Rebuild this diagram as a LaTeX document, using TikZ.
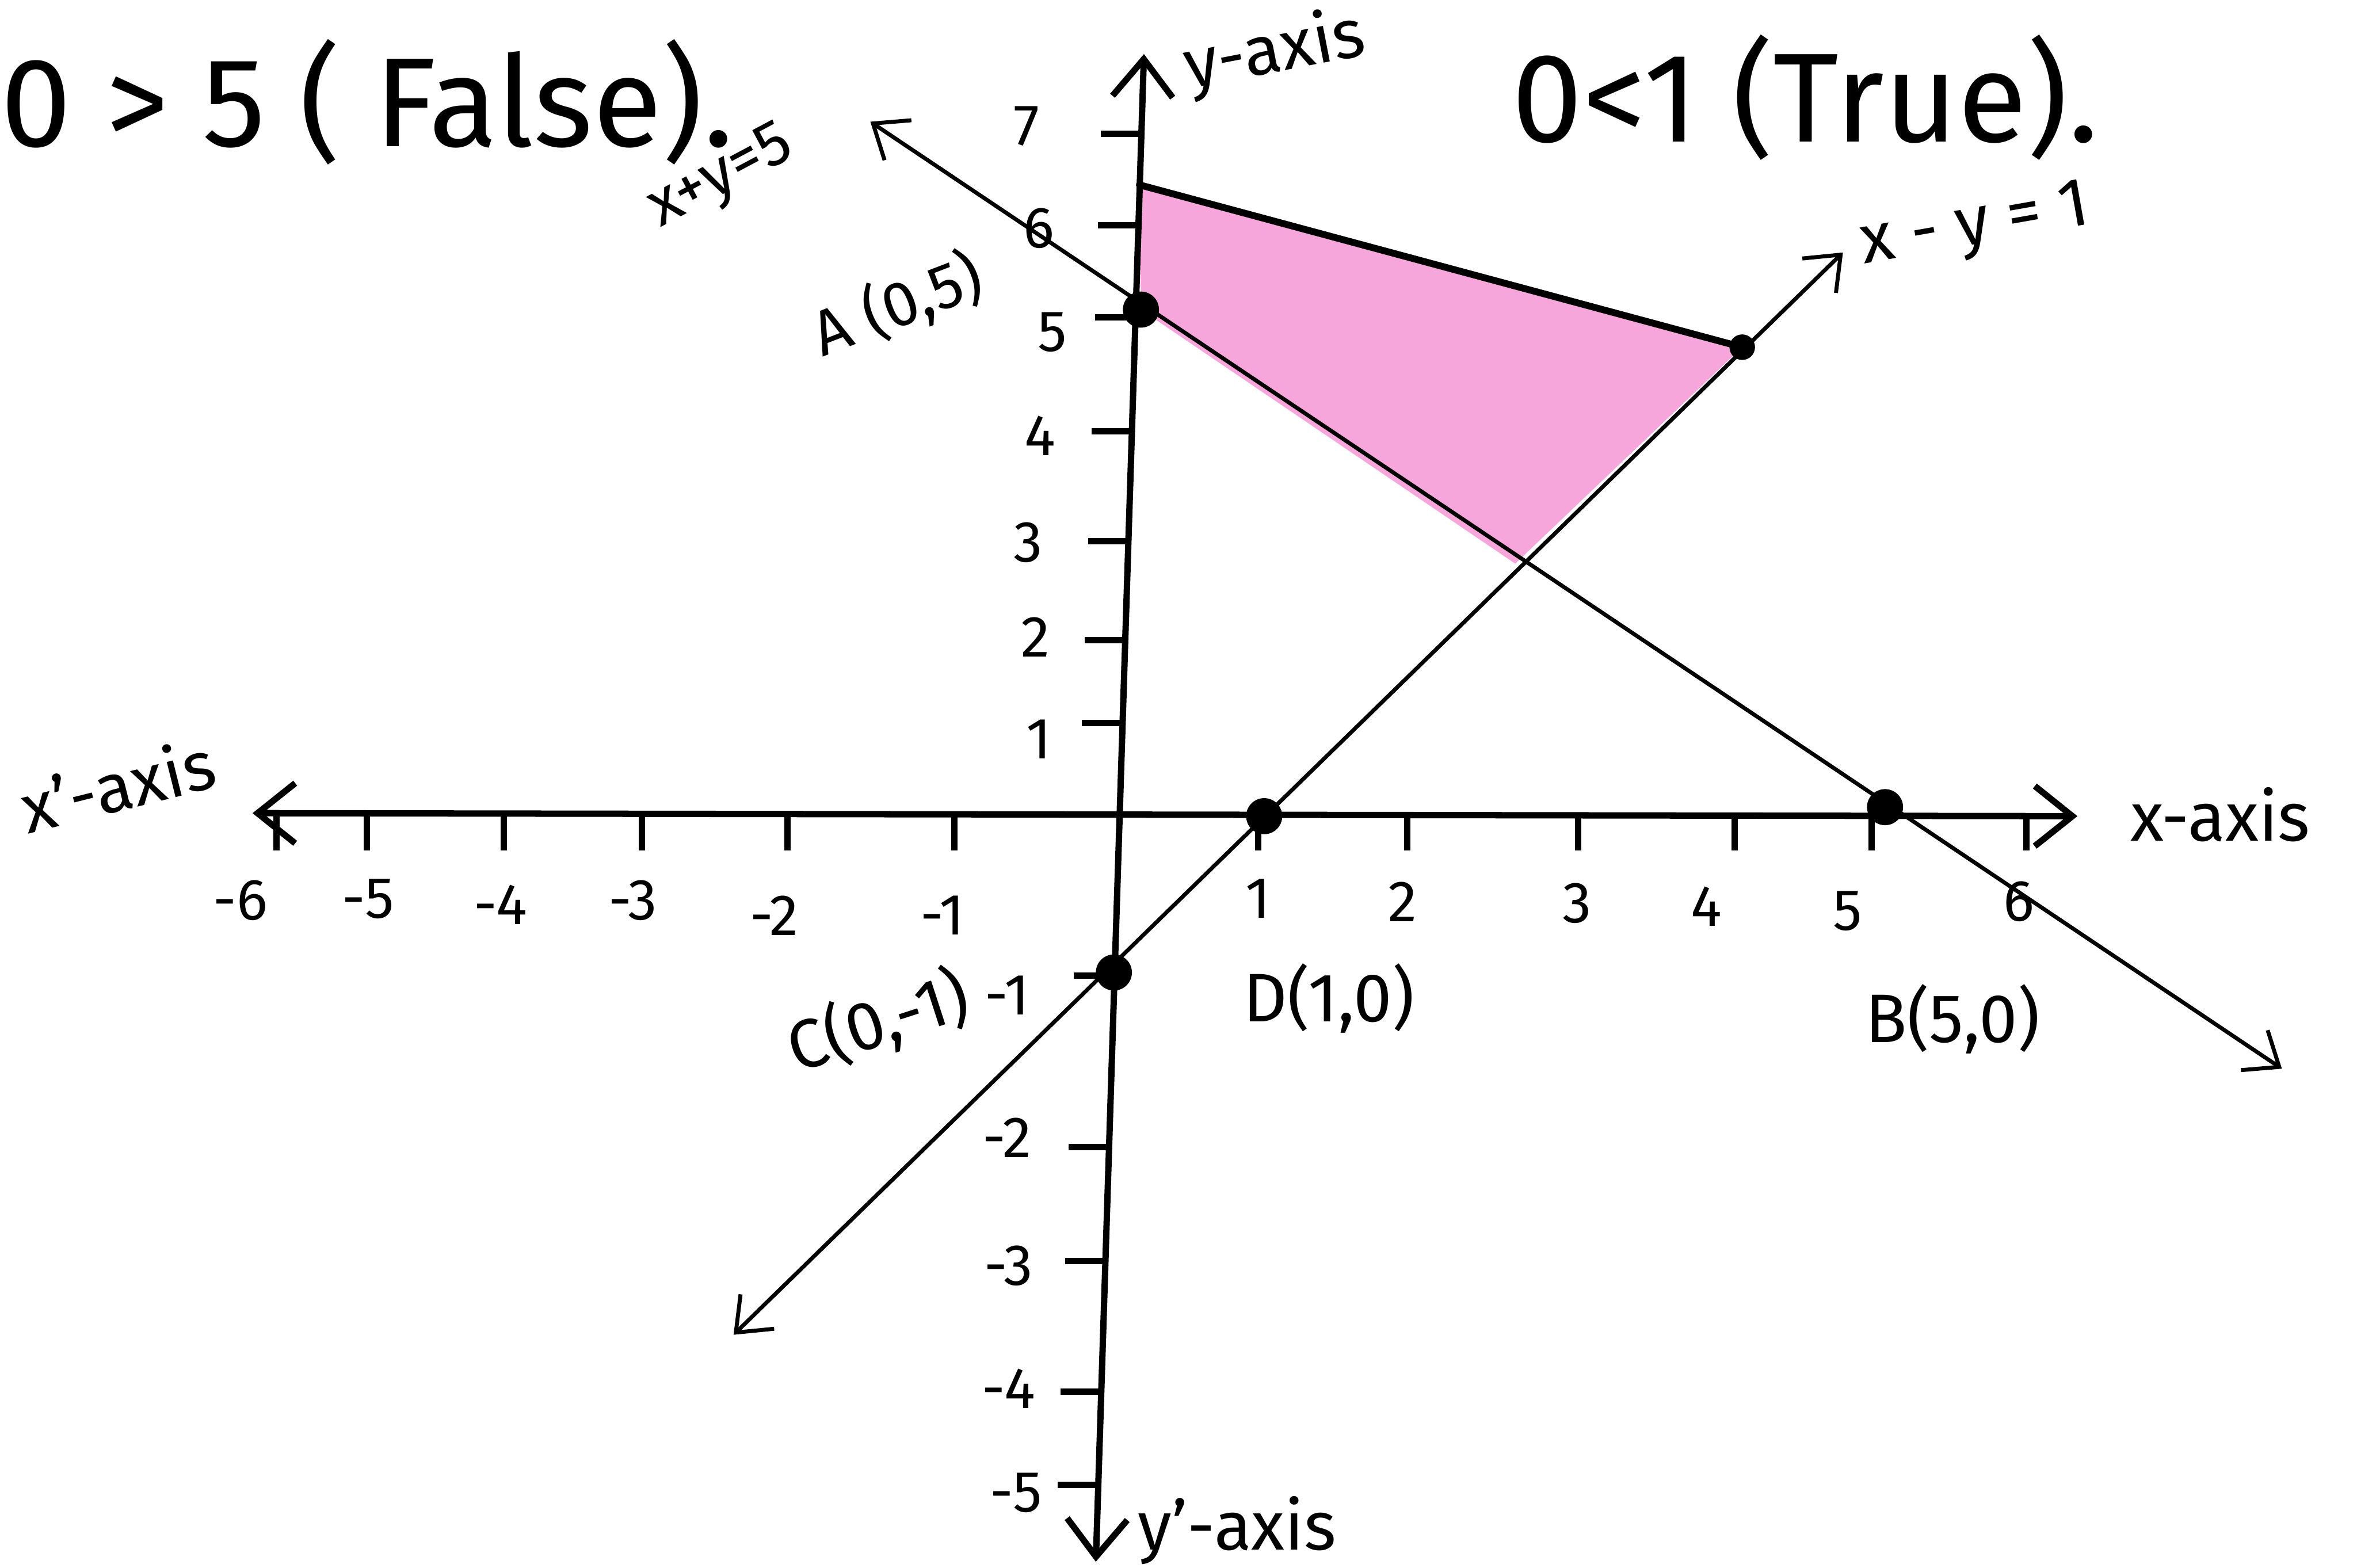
\documentclass[tikz,border=0pt]{standalone}
\usepackage{fontspec}
\setmainfont{Fira Sans}
\usetikzlibrary{arrows.meta}
\definecolor{rose}{RGB}{247,166,220}
\begin{document}
\begin{tikzpicture}
			% Styles
			\tikzstyle{axe}=[line width=1.2pt,{Straight Barb[length=2.5mm,width=4mm]}-{Straight Barb[length=2.5mm,width=4mm]}]
			\tikzstyle{droite}=[line width=0.75pt,{Straight Barb[length=2mm,width=3.2mm]}-{Straight Barb[length=2mm,width=3.2mm]}]
			\tikzstyle{bord}=[line width=1.3pt,line cap=round]
			\tikzstyle{grad}=[line width=1.2pt]
			\tikzstyle{point}=[circle,fill=black,inner sep=0pt,minimum size=2.4mm]
			\tikzstyle{petitpoint}=[circle,fill=black,inner sep=0pt,minimum size=1.7mm]
			\tikzstyle{nombre}=[font=\fontsize{11}{11}\selectfont,inner sep=0pt]
			\tikzstyle{etiquette}=[font=\fontsize{13}{13}\selectfont,inner sep=0pt]
			\tikzstyle{petite}=[font=\fontsize{12}{12}\selectfont,inner sep=0pt]
			\tikzstyle{titre}=[font=\fontsize{24}{24}\selectfont,inner sep=0pt]
			% Cadre
			\useasboundingbox (0,0) rectangle (15.68,10.43);
			% Points
			\coordinate (pA) at (7.59,8.37);
			\coordinate (pB) at (12.54,5.06);
			\coordinate (pC) at (7.41,3.96);
			\coordinate (pD) at (8.41,5.00);
			\coordinate (pE) at (11.59,8.12);
			\coordinate (pF) at (10.08,6.68);
			\coordinate (pG) at (7.58,9.20);
			% Extremites
			\coordinate (X1) at (1.68,5.02);
			\coordinate (X2) at (13.82,5.00);
			\coordinate (Y1) at (7.29,0.04);
			\coordinate (Y2) at (7.61,10.07);
			\coordinate (L1) at (5.79,9.62);
			\coordinate (L2) at (15.18,3.32);
			\coordinate (M1) at (4.88,1.55);
			\coordinate (M2) at (12.26,8.75);
			% Region
			\fill[rose] (pG) -- (pE) -- (pF) -- (pA) -- cycle;
			\draw[bord] (pG) -- (pE);
			% Axes
			\draw[axe] (X1) -- (X2);
			\draw[axe] (Y1) -- (Y2);
			% Droites
			\draw[droite] (L1) -- (L2);
			\draw[droite] (M1) -- (M2);
			% Graduations
			\foreach \x in {1.84,2.44,3.35,4.27,5.24,6.35,8.37,9.36,10.50,11.54,12.45,13.48}
				\draw[grad] (\x,5.01) -- (\x,4.77);
			\foreach \x/\y in {7.468/5.62,7.486/6.17,7.507/6.83,7.530/7.56,7.554/8.32,7.574/8.93,7.593/9.54,7.414/3.94,7.378/2.80,7.354/2.04,7.326/1.17,7.306/0.55}
				\draw[grad] (\x,\y) -- ++(-0.27,0);
			\foreach \t/\x/\y [count=\i] in {-6/1.60/4.44,-5/2.45/4.45,-4/3.33/4.41,-3/4.21/4.44,-2/5.15/4.34,-1/6.27/4.34,1/8.37/4.45,2/9.33/4.43,3/10.49/4.42,4/11.35/4.40,5/12.29/4.37,6/13.43/4.43}
				\node[nombre] (gx\i) at (\x,\y) {\t};
			\foreach \t/\x/\y [count=\i] in {1/6.91/5.51,2/6.89/6.19,3/6.84/6.82,4/6.92/7.53,5/7.00/8.22,6/6.91/8.91,7/6.83/9.59,-1/6.70/3.81,-2/6.70/2.86,-3/6.71/2.01,-4/6.71/1.19,-5/6.76/0.50}
				\node[nombre] (gy\i) at (\x,\y) {\t};
			% Noeuds
			\node[point] (A) at (pA) {};
			\node[point] (B) at (pB) {};
			\node[point] (C) at (pC) {};
			\node[point] (D) at (pD) {};
			\node[petitpoint] (E) at (pE) {};
			% Textes
			\node[titre,anchor=west] (faux) at (0,9.75) {0 > 5 ( False).};
			\node[titre] (vrai) at (12.01,9.78) {0<1 (True).};
			\node[etiquette,rotate=11] (ay) at (8.48,10.08) {y-axis};
			\node[petite,rotate=28] (eqA) at (4.80,9.24) {x+y=5};
			\node[petite,rotate=21] (lA) at (5.97,8.40) {A (0,5)};
			\node[etiquette,rotate=10] (eqB) at (13.14,8.91) {x - y = 1};
			\node[etiquette,rotate=14] (axp) at (0.78,5.21) {x'-axis};
			\node[etiquette] (ax) at (14.77,5.01) {x-axis};
			\node[etiquette,rotate=18] (lC) at (5.84,3.63) {C(0,-1)};
			\node[etiquette] (lD) at (8.84,3.79) {D(1,0)};
			\node[etiquette] (lB) at (12.99,3.65) {B(5,0)};
			\node[etiquette] (ayp) at (8.23,0.25) {y'-axis};
		\end{tikzpicture}
\end{document}
